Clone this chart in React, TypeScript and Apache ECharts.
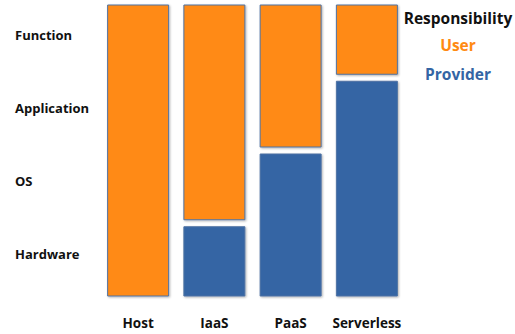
import React, { useEffect, useRef } from "react";
import * as echarts from "echarts";

// Service models along the x axis
const models = ["Host", "IaaS", "PaaS", "Serverless"];
// Stack layers, bottom to top
const layers = ["Hardware", "OS", "Application", "Function"];
// Number of layers each party is responsible for, per model
const providerLayers = [0, 1, 2, 3];
const userLayers = [4, 3, 2, 1];

const ORANGE = "#ff8a12";
const BLUE = "#3465a4";
const FONT = "'Open Sans', 'Noto Sans', sans-serif";
const GAP = 3.5;

function segmentRenderer(color: string, maxValue: number) {
  return (params: any, api: any) => {
    const idx = api.value(0);
    const start = api.value(1);
    const end = api.value(2);
    if (end - start <= 0) return null;
    const pBottom = api.coord([idx, start]);
    const pTop = api.coord([idx, end]);
    const width = api.size([1, 0])[0] * 0.8;
    let y0 = pTop[1];
    let y1 = pBottom[1];
    if (end < maxValue) y0 += GAP;
    if (start > 0) y1 -= GAP;
    return {
      type: "rect",
      shape: { x: pTop[0] - width / 2, y: y0, width, height: y1 - y0 },
      style: {
        fill: color,
        stroke: "#4f72a3",
        lineWidth: 1,
        shadowBlur: 2,
        shadowOffsetX: 1,
        shadowOffsetY: 1,
        shadowColor: "rgba(0,0,0,0.3)",
      },
    };
  };
}

export default function App() {
  const ref = useRef<HTMLDivElement>(null);

  useEffect(() => {
    if (!ref.current) return;
    const chart = echarts.init(ref.current, undefined, { renderer: "svg" });
    const total = layers.length;

    const providerData = models.map((_, i) => [i, 0, providerLayers[i]]);
    const userData = models.map((_, i) => [
      i,
      providerLayers[i],
      providerLayers[i] + userLayers[i],
    ]);

    const legendText = (text: string, y: number, fill: string) => ({
      type: "text",
      x: 458,
      y,
      style: {
        text,
        fontFamily: FONT,
        fontWeight: "bold",
        fontSize: 15.5,
        fill,
        textAlign: "center",
        textVerticalAlign: "middle",
      },
    });

    chart.setOption({
      animation: false,
      backgroundColor: "#ffffff",
      grid: { left: 100, top: 5, width: 305, bottom: 38 },
      xAxis: {
        type: "category",
        data: models,
        axisLine: { show: false },
        axisTick: { show: false },
        axisLabel: {
          interval: 0,
          margin: 20,
          fontFamily: FONT,
          fontWeight: "bold",
          fontSize: 13.5,
          color: "#111",
        },
      },
      yAxis: [
        {
          type: "value",
          min: 0,
          max: total,
          interval: 1,
          axisLine: { show: false },
          axisTick: { show: false },
          axisLabel: { show: false },
          splitLine: { show: false },
        },
        {
          type: "category",
          data: layers,
          position: "left",
          axisLine: { show: false },
          axisTick: { show: false },
          splitLine: { show: false },
          axisLabel: {
            interval: 0,
            align: "left",
            verticalAlign: "bottom",
            lineHeight: 12,
            margin: 85,
            fontFamily: FONT,
            fontWeight: "bold",
            fontSize: 13,
            color: "#111",
          },
        },
      ],
      series: [
        {
          name: "Provider",
          type: "custom",
          yAxisIndex: 0,
          renderItem: segmentRenderer(BLUE, total),
          encode: { x: 0, y: [1, 2] },
          data: providerData,
        },
        {
          name: "User",
          type: "custom",
          yAxisIndex: 0,
          renderItem: segmentRenderer(ORANGE, total),
          encode: { x: 0, y: [1, 2] },
          data: userData,
        },
      ],
      graphic: [
        legendText("Responsibility", 18, "#111"),
        legendText("User", 45, ORANGE),
        legendText("Provider", 74, BLUE),
      ],
    });

    return () => chart.dispose();
  }, []);

  return (
    <div
      ref={ref}
      style={{ position: "fixed", left: 0, top: 0, width: 515, height: 334 }}
    />
  );
}
